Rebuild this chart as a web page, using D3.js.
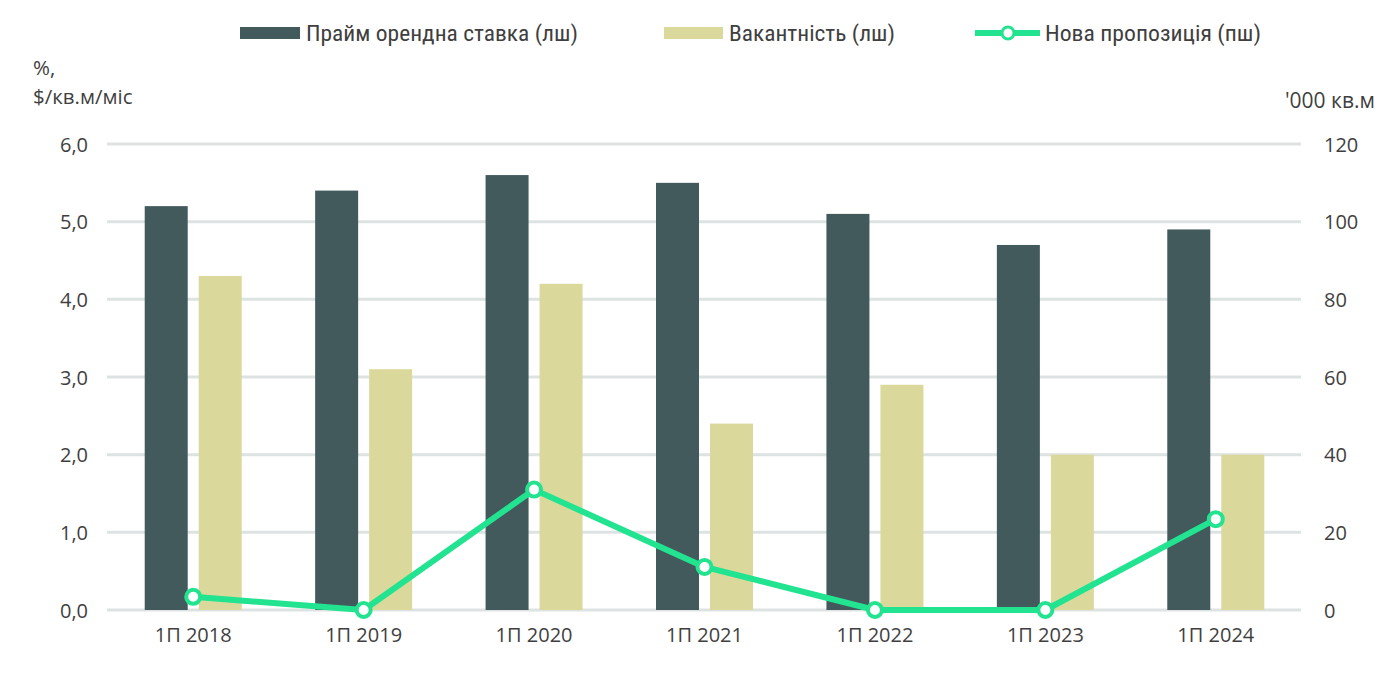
<!DOCTYPE html>
<html>
<head>
<meta charset="utf-8">
<script src="https://cdn.jsdelivr.net/npm/d3@7"></script>
<style>
  body { margin: 0; background: #fff; }
  svg text { font-family: "Open Sans", "Noto Sans", sans-serif; fill: #3f3f3f; }
  .legend text { font-family: "Liberation Sans Narrow", "Roboto Condensed", "Roboto", sans-serif; }
</style>
</head>
<body>
<svg width="1400" height="674"></svg>
<script>
const categories = ["1П 2018", "1П 2019", "1П 2020", "1П 2021", "1П 2022", "1П 2023", "1П 2024"];
const rentValues = [5.2, 5.4, 5.6, 5.5, 5.1, 4.7, 4.9];
const vacancyValues = [4.3, 3.1, 4.2, 2.4, 2.9, 2.0, 2.0];
const supplyValues = [3.4, 0, 31, 11.1, 0, 0, 23.4];
const leftTicks = [0, 1, 2, 3, 4, 5, 6];
const rightTicks = [0, 20, 40, 60, 80, 100, 120];
const seriesNames = ["Прайм орендна ставка (лш)", "Вакантність (лш)", "Нова пропозиція (пш)"];

const colDark = "#435a5c", colLight = "#dbd89c", colLine = "#22e38f";

const svg = d3.select("svg");
const margin = {top: 144, bottom: 64, left: 108, right: 99};
const plotW = 1400 - margin.left - margin.right;
const plotH = 674 - margin.top - margin.bottom;

const g = svg.append("g").attr("transform", `translate(${margin.left}, ${margin.top})`);

const x = d3.scaleBand().domain(categories).range([0, plotW]).padding(0);
const yL = d3.scaleLinear().domain([0, 6]).range([plotH, 0]);
const yR = d3.scaleLinear().domain([0, 120]).range([plotH, 0]);

// gridlines
g.selectAll("line.grid").data(leftTicks).enter().append("line")
  .attr("class", "grid")
  .attr("x1", -1).attr("x2", plotW)
  .attr("y1", d => yL(d)).attr("y2", d => yL(d))
  .attr("stroke", "#dde3e2").attr("stroke-width", 3);

// left axis
const leftAxis = g.append("g").call(d3.axisLeft(yL).tickValues(leftTicks)
    .tickFormat(d => d3.format(".1f")(d).replace(".", ",")).tickSize(0).tickPadding(20));
leftAxis.select(".domain").remove();
leftAxis.selectAll("text").attr("font-size", "20px").attr("dy", "0.35em");

// right axis
const rightAxis = g.append("g").attr("transform", `translate(${plotW}, 0)`)
  .call(d3.axisRight(yR).tickValues(rightTicks).tickSize(0).tickPadding(23));
rightAxis.select(".domain").remove();
rightAxis.selectAll("text").attr("font-size", "20px").attr("dy", "0.35em");

// x axis
const xAxis = g.append("g").attr("transform", `translate(0, ${plotH})`)
  .call(d3.axisBottom(x).tickSize(0).tickPadding(18));
xAxis.select(".domain").remove();
xAxis.selectAll("text").attr("font-size", "20px");

// bars
const barW = 43, gap = 11;
g.selectAll("rect.rent").data(categories).enter().append("rect")
  .attr("x", (d) => x(d) + x.bandwidth() / 2 - gap / 2 - barW)
  .attr("y", (d, i) => yL(rentValues[i]))
  .attr("width", barW)
  .attr("height", (d, i) => plotH - yL(rentValues[i]))
  .attr("fill", colDark);

g.selectAll("rect.vac").data(categories).enter().append("rect")
  .attr("x", (d) => x(d) + x.bandwidth() / 2 + gap / 2)
  .attr("y", (d, i) => yL(vacancyValues[i]))
  .attr("width", barW)
  .attr("height", (d, i) => plotH - yL(vacancyValues[i]))
  .attr("fill", colLight);

// line
const line = d3.line()
  .x((d, i) => x(categories[i]) + x.bandwidth() / 2)
  .y(d => yR(d));
g.append("path").datum(supplyValues)
  .attr("d", line).attr("fill", "none")
  .attr("stroke", colLine).attr("stroke-width", 6).attr("stroke-linejoin", "round");
g.selectAll("circle.pt").data(supplyValues).enter().append("circle")
  .attr("cx", (d, i) => x(categories[i]) + x.bandwidth() / 2)
  .attr("cy", d => yR(d))
  .attr("r", 7)
  .attr("fill", "#fff").attr("stroke", colLine).attr("stroke-width", 4);

// axis titles
svg.append("text").attr("x", 33).attr("y", 75).attr("font-size", "20.5px").text("%,");
svg.append("text").attr("x", 33).attr("y", 104).attr("font-size", "20.5px").text("$/кв.м/міс");
svg.append("text").attr("x", 1285).attr("y", 108).attr("font-size", "21px").text("'000 кв.м");

// legend
const legend = svg.append("g").attr("class", "legend");
const legX = [240, 664, 975];
legend.append("rect").attr("x", legX[0]).attr("y", 27).attr("width", 60).attr("height", 12).attr("fill", colDark);
legend.append("rect").attr("x", legX[1]).attr("y", 27).attr("width", 59).attr("height", 12).attr("fill", colLight);
legend.append("line").attr("x1", legX[2]).attr("x2", legX[2] + 65).attr("y1", 33).attr("y2", 33)
  .attr("stroke", colLine).attr("stroke-width", 6);
legend.append("circle").attr("cx", legX[2] + 33).attr("cy", 33).attr("r", 6)
  .attr("fill", "#fff").attr("stroke", colLine).attr("stroke-width", 3);
const legTextX = [306, 729, 1045];
const legTextW = [272, 166, 216];
legend.selectAll("text").data(seriesNames).enter().append("text")
  .attr("x", (d, i) => legTextX[i]).attr("y", 41)
  .attr("font-size", "22px")
  .attr("textLength", (d, i) => legTextW[i])
  .attr("lengthAdjust", "spacingAndGlyphs")
  .text(d => d);
</script>
</body>
</html>
